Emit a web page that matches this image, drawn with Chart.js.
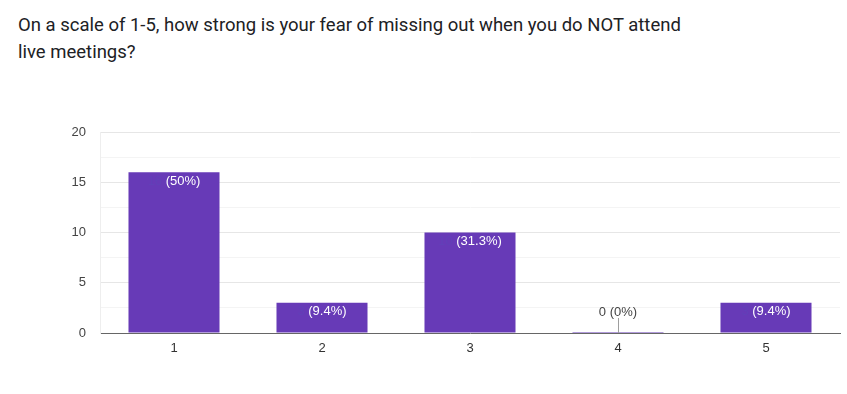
<!DOCTYPE html>
<html><head><meta charset="utf-8">
<script src="https://cdn.jsdelivr.net/npm/chart.js@4/dist/chart.umd.min.js"></script>
<style>
html,body{margin:0;padding:0;background:#fff;}
#wrap{position:relative;width:847px;height:394px;}
#title{position:absolute;left:18px;top:12px;width:685px;font-family:Roboto,"Noto Sans",sans-serif;font-size:18.5px;line-height:27px;color:#202124;}
canvas{position:absolute;left:0;top:0;}
</style></head>
<body>
<div id="wrap">
<div id="title">On a scale of 1-5, how strong is your fear of missing out when you do NOT attend live meetings?</div>
<canvas id="c" width="847" height="394"></canvas>
</div>
<script>
const categories = ["1", "2", "3", "4", "5"];
const counts = [16, 3, 10, 0, 3];
const percentLabels = ["(50%)", "(9.4%)", "(31.3%)", "(0%)", "(9.4%)"];

const barColor = "#673ab7";

const labelPlugin = {
  id: "barLabels",
  afterDatasetsDraw(chart) {
    const ctx = chart.ctx;
    const meta = chart.getDatasetMeta(0);
    const yScale = chart.scales.y;
    ctx.save();
    ctx.font = "13px Arial, 'Liberation Sans', sans-serif";
    ctx.textBaseline = "middle";
    meta.data.forEach((bar, i) => {
      const v = counts[i];
      const numTxt = v + " ";
      const pctTxt = percentLabels[i];
      const wNum = ctx.measureText(numTxt).width;
      const wPct = ctx.measureText(pctTxt).width;
      const total = wNum + wPct;
      const x0 = bar.x - total / 2;
      if (v > 0) {
        const y = bar.y + 9;
        ctx.textAlign = "left";
        ctx.fillStyle = "#6240b8";
        ctx.fillText(numTxt, x0, y);
        ctx.fillStyle = "#ffffff";
        ctx.fillText(pctTxt, x0 + wNum, y);
      } else {
        const base = yScale.getPixelForValue(0);
        ctx.strokeStyle = "#9e9e9e";
        ctx.lineWidth = 1;
        ctx.beginPath();
        ctx.moveTo(Math.round(bar.x) + 0.5, base - 15);
        ctx.lineTo(Math.round(bar.x) + 0.5, base);
        ctx.stroke();
        ctx.textAlign = "left";
        ctx.fillStyle = "#444444";
        ctx.fillText(numTxt + pctTxt, x0, base - 21);
      }
    });
    ctx.restore();
  }
};

new Chart(document.getElementById("c"), {
  type: "bar",
  data: {
    labels: categories,
    datasets: [{
      data: counts,
      backgroundColor: barColor,
      borderWidth: 0,
      categoryPercentage: 1,
      barPercentage: 0.615,
      minBarLength: 1
    }]
  },
  options: {
    responsive: false,
    animation: false,
    devicePixelRatio: 1,
    layout: { padding: { left: 0, right: 7, top: 132, bottom: 0 } },
    plugins: { legend: { display: false }, tooltip: { enabled: false } },
    scales: {
      x: {
        grid: { display: false, drawTicks: false },
        border: { display: true, color: "#666666", width: 1 },
        ticks: { color: "#333333", font: { family: "Arial, 'Liberation Sans', sans-serif", size: 13 }, padding: 8 },
        afterFit(scale) { scale.height = 61; }
      },
      y: {
        min: 0, max: 20,
        grid: {
          drawTicks: false,
          color(ctx) { return (ctx.tick && ctx.tick.value % 5 === 0) ? "#e6e6e6" : "#f4f4f4"; }
        },
        border: { display: true, color: "#eeeeee" },
        ticks: {
          stepSize: 2.5,
          autoSkip: false,
          padding: 14,
          color: "#444444",
          font: { family: "Arial, 'Liberation Sans', sans-serif", size: 13 },
          callback(v) { return v % 5 === 0 ? String(v) : ""; }
        },
        afterFit(scale) { scale.width = 100; }
      }
    }
  },
  plugins: [labelPlugin]
});
</script>
</body></html>
